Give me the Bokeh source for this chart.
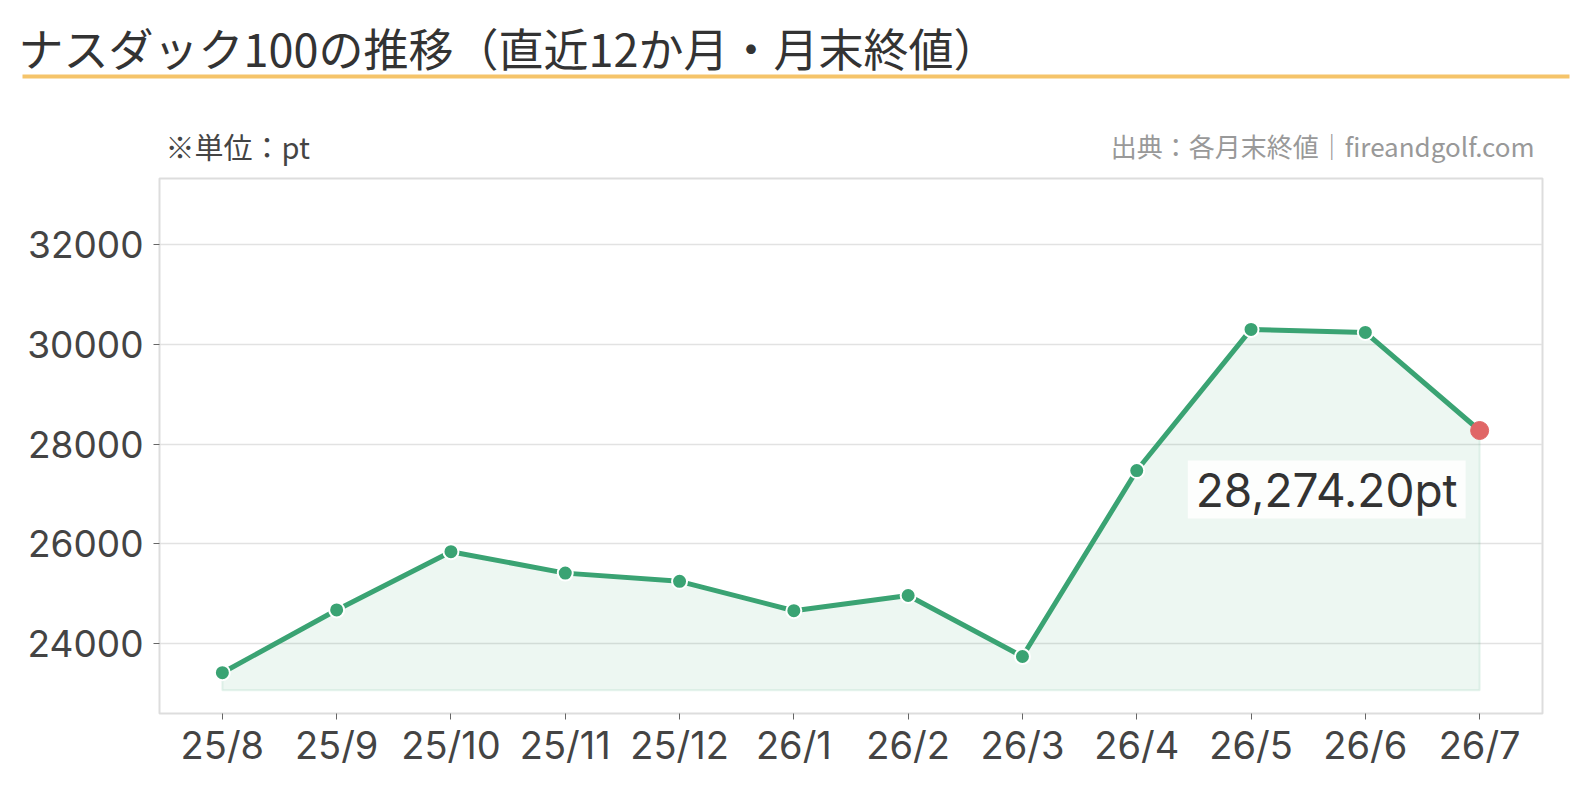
from bokeh.plotting import figure
from bokeh.models import Range1d, FixedTicker, NumeralTickFormatter, Label
from bokeh.layouts import column
from bokeh.core.properties import value
from bokeh.embed import file_html
from bokeh.resources import INLINE
import numpy as np

months = ["25/8", "25/9", "25/10", "25/11", "25/12", "26/1", "26/2", "26/3", "26/4", "26/5", "26/6", "26/7"]
closes = [23410, 24670, 25840, 25410, 25245, 24655, 24960, 23735, 27470, 30305, 30245, 28274.20]
y_ticks = [24000, 26000, 28000, 30000, 32000]

title_text = "ナスダック100の推移（直近12か月・月末終値）"
unit_text = "※単位：pt"
source_text = "出典：各月末終値｜fireandgolf.com"

JP = "Noto Sans CJK JP"
NUM = "Inter"
GREEN = "#3aa373"
RED = "#e06666"
W = 1570
HH = 170

# ---- header ----
hdr = figure(width=W, height=HH, x_range=Range1d(0, W), y_range=Range1d(HH, 0),
             output_backend="svg", toolbar_location=None,
             x_axis_location=None, y_axis_location=None,
             min_border=0, outline_line_color=None)
hdr.frame_align = False
hdr.grid.visible = False
hdr.text(x=[18], y=[47], text=[title_text], text_font=value(JP), text_font_size="45px",
         text_color="#333333", text_align="left", text_baseline="middle")
hdr.segment(x0=[22], y0=[76], x1=[1569], y1=[76], line_color="#f5c46a", line_width=4)
hdr.text(x=[165], y=[145], text=[unit_text], text_font=value(JP), text_font_size="29px",
         text_color="#444444", text_align="left", text_baseline="middle")
hdr.text(x=[1534], y=[145], text=[source_text], text_font=value(JP), text_font_size="26px",
         text_color="#999999", text_align="right", text_baseline="middle")

# ---- main ----
xs = np.arange(len(months))
ymin = min(closes) * 0.965
ymax = max(closes) * 1.1
base = min(closes) * 0.985

p = figure(width=W, height=618, x_range=Range1d(-0.55, len(months) - 0.45),
           y_range=Range1d(ymin, ymax), output_backend="svg", toolbar_location=None,
           min_border_left=159, min_border_right=28, min_border_top=8, min_border_bottom=75,
           outline_line_color="#dddddd", outline_line_width=2)
p.frame_align = False

px = list(xs) + [xs[-1], xs[0]]
py = list(closes) + [base, base]
p.patch(px, py, fill_color=GREEN, fill_alpha=0.09, line_color=GREEN, line_alpha=0.12, line_width=2)
p.line(xs, closes, line_color=GREEN, line_width=5)
p.scatter(xs[:-1], closes[:-1], size=15, fill_color=GREEN, line_color="white", line_width=2)
p.scatter([xs[-1]], [closes[-1]], size=18, fill_color=RED, line_color=RED, line_width=1)

p.add_layout(Label(x=xs[-1], y=closes[-1], text=f"{closes[-1]:,.2f}pt", x_offset=-14, y_offset=-30,
                   text_align="right", text_baseline="top", text_font=NUM, text_font_size="46px",
                   text_color="#333333", background_fill_color="white", background_fill_alpha=0.85,
                   padding=dict(left=8, right=8, top=1, bottom=1)))

p.xaxis.ticker = FixedTicker(ticks=list(xs))
p.xaxis.major_label_overrides = {int(i): m for i, m in zip(xs, months)}
p.yaxis.ticker = FixedTicker(ticks=y_ticks)
p.yaxis.formatter = NumeralTickFormatter(format="0")
for ax in (p.xaxis, p.yaxis):
    ax.axis_line_color = None
    ax.major_tick_line_color = "#666666"
    ax.major_tick_in = 0
    ax.major_tick_out = 6
    ax.minor_tick_line_color = None
    ax.major_label_text_font = NUM
    ax.major_label_text_color = "#444444"
p.yaxis.major_label_text_font_size = "37px"
p.xaxis.major_label_text_font_size = "38px"
p.yaxis.major_label_standoff = 10
p.xaxis.major_label_standoff = 2
p.xgrid.visible = False
p.ygrid.grid_line_color = "#e2e2e2"
p.ygrid.grid_line_width = 1.5

layout = column(hdr, p, spacing=0)
open("out.html", "w").write(file_html(layout, INLINE))
